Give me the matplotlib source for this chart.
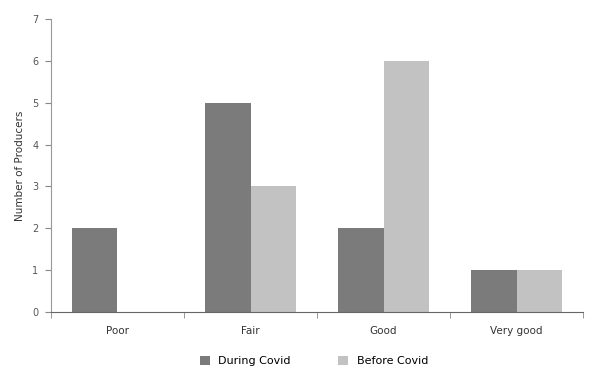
import numpy as np
import matplotlib
matplotlib.use("Agg")
import matplotlib.pyplot as plt

categories = ["Poor", "Fair", "Good", "Very good"]
during_covid = [2, 5, 2, 1]
before_covid = [0, 3, 6, 1]

plt.rcParams['font.family'] = ['Liberation Sans Narrow', 'DejaVu Sans']

fig = plt.figure(figsize=(5.92, 3.76), dpi=100)
ax = fig.add_axes([0.0861, 0.170, 0.899, 0.7795])

x = np.arange(len(categories))
w = 0.34
ax.bar(x - w / 2, during_covid, w, color="#7b7b7b", label="During Covid")
ax.bar(x + w / 2, before_covid, w, color="#c2c2c2", label="Before Covid")

ax.set_xlim(-0.5, len(categories) - 0.5)
ax.set_ylim(0, 7)
ax.set_yticks(range(8))
ax.set_xticks(x)
ax.set_xticklabels(categories)
ax.set_xticks(np.arange(-0.5, len(categories)), minor=True)
ax.tick_params(axis="x", which="major", length=0, pad=10, labelsize=7.5, colors="#333333")
ax.tick_params(axis="x", which="minor", length=4, color="#888888", direction="out")
ax.tick_params(axis="y", length=4, color="#888888", labelsize=7, labelcolor="#555555", pad=5)

for s in ["top", "right"]:
    ax.spines[s].set_visible(False)
ax.spines["left"].set_color("#999999")
ax.spines["bottom"].set_color("#666666")

ax.set_ylabel("Number of Producers", fontsize=7.5, color="#333333", labelpad=5)

fig.legend(loc="lower center", bbox_to_anchor=(0.53, 0.0), ncol=2, frameon=False,
           fontsize=8, handlelength=0.9, handleheight=0.9, columnspacing=4.2)

fig.savefig("out.png", dpi=100)
